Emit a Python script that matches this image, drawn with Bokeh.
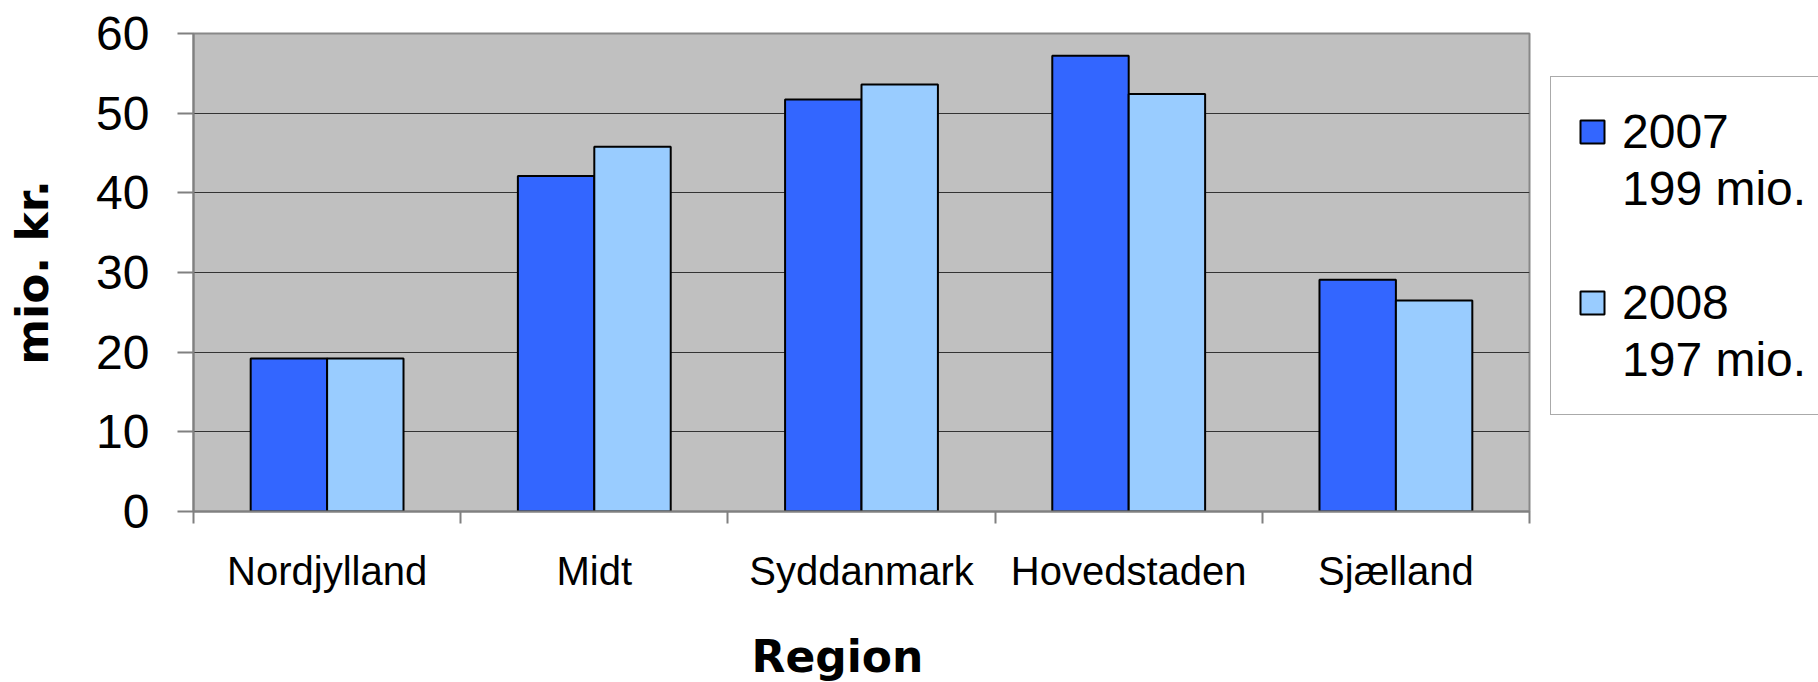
from bokeh.plotting import figure
from bokeh.models import (Range1d, LinearAxis, FixedTicker, Legend,
                          LegendItem, Title, ColumnDataSource)
from bokeh.transform import dodge
from bokeh.embed import file_html
from bokeh.resources import INLINE

# ---- data ----
regions = ["Nordjylland", "Midt", "Syddanmark", "Hovedstaden", "Sjælland"]
years = ["2007", "2008"]
values_2007 = [19.2, 42.1, 51.7, 57.2, 29.1]
values_2008 = [19.2, 45.8, 53.6, 52.4, 26.5]
totals = [199, 197]
y_ticks = [0, 10, 20, 30, 40, 50, 60]
y_label = "mio. kr."
x_label = "Region"

color_2007 = "#3366FF"
color_2008 = "#99CCFF"

# category slots on a numeric axis: category i occupies [i, i+1]
centres = [i + 0.5 for i in range(len(regions))]
bounds = [float(i) for i in range(len(regions) + 1)]

src = ColumnDataSource(dict(x=centres, region=regions, v2007=values_2007, v2008=values_2008))

p = figure(x_range=Range1d(0, len(regions)), y_range=Range1d(y_ticks[0], y_ticks[-1]),
           width=1818, height=682, output_backend="svg", toolbar_location=None,
           x_axis_location=None, y_axis_location=None,
           min_border_left=193, min_border_right=289, min_border_top=33, min_border_bottom=171)
p.frame_width = 1336
p.frame_height = 478
p.background_fill_color = "#C0C0C0"
p.border_fill_color = "white"
p.outline_line_color = "#888888"
p.outline_line_width = 2

bar_w = 0.286
r07 = p.vbar(x=dodge("x", -bar_w / 2), top="v2007", width=bar_w,
             source=src, fill_color=color_2007, line_color="black", line_width=2)
r08 = p.vbar(x=dodge("x", bar_w / 2), top="v2008", width=bar_w,
             source=src, fill_color=color_2008, line_color="black", line_width=2)
blank = p.vbar(x=[], top=[], width=0.1, fill_alpha=0, line_alpha=0)

# y axis
yaxis = LinearAxis(ticker=FixedTicker(ticks=y_ticks, minor_ticks=[]))
yaxis.axis_line_color = "#808080"
yaxis.axis_line_width = 2
yaxis.major_tick_out = 16
yaxis.major_tick_in = 0
yaxis.major_tick_line_color = "#808080"
yaxis.major_tick_line_width = 2
yaxis.minor_tick_line_color = None
yaxis.major_label_text_font = "Liberation Sans"
yaxis.major_label_text_font_size = "48px"
yaxis.major_label_text_color = "black"
yaxis.major_label_standoff = 28
yaxis.axis_label = y_label
yaxis.axis_label_standoff = 35
yaxis.axis_label_text_font = "DejaVu Sans"
yaxis.axis_label_text_font_style = "bold"
yaxis.axis_label_text_font_size = "44px"
yaxis.axis_label_text_color = "black"
p.add_layout(yaxis, "left")

# x axis (labels at category centres, ticks at category boundaries)
xaxis = LinearAxis(ticker=FixedTicker(ticks=centres, minor_ticks=bounds))
xaxis.major_label_overrides = {c: r for c, r in zip(centres, regions)}
xaxis.axis_line_color = "#808080"
xaxis.axis_line_width = 2
xaxis.major_tick_line_color = None
xaxis.major_tick_out = 12
xaxis.major_tick_in = 0
xaxis.minor_tick_out = 12
xaxis.minor_tick_in = 0
xaxis.minor_tick_line_color = "#808080"
xaxis.minor_tick_line_width = 2
xaxis.major_label_text_font = "Liberation Sans"
xaxis.major_label_text_font_size = "40px"
xaxis.major_label_text_color = "black"
xaxis.major_label_standoff = 25
p.add_layout(xaxis, "below")

p.ygrid.ticker = FixedTicker(ticks=y_ticks)
p.ygrid.grid_line_color = "#333333"
p.ygrid.grid_line_width = 1
p.xgrid.grid_line_color = None

tx = Title(text=x_label, align="left", offset=558, standoff=67, text_color="black",
           text_font="DejaVu Sans", text_font_style="bold", text_font_size="44px")
p.add_layout(tx, "below")

items = [
    LegendItem(label=years[0], renderers=[r07]),
    LegendItem(label=f"{totals[0]} mio.", renderers=[blank]),
    LegendItem(label=" ", renderers=[blank]),
    LegendItem(label=years[1], renderers=[r08]),
    LegendItem(label=f"{totals[1]} mio.", renderers=[blank]),
]
legend = Legend(items=items, location=(21, 96), orientation="vertical")
legend.border_line_color = "#555555"
legend.border_line_width = 1
legend.background_fill_color = "white"
legend.background_fill_alpha = 1
legend.glyph_width = 30
legend.glyph_height = 29
legend.label_standoff = 15
legend.padding = 26
legend.spacing = 0
legend.margin = 0
legend.label_height = 57
legend.label_text_font = "Liberation Sans"
legend.label_text_font_size = "48px"
legend.label_text_color = "black"
p.add_layout(legend, "right")

open("out.html", "w").write(file_html(p, INLINE))
